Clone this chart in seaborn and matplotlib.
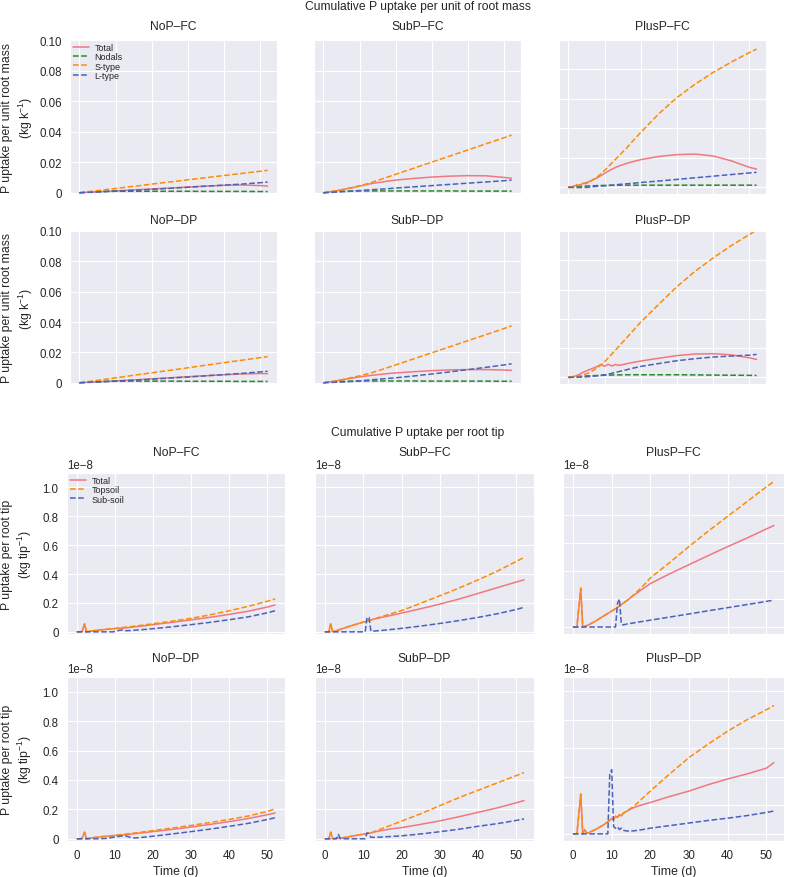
import matplotlib
matplotlib.use('Agg')
import matplotlib.pyplot as plt
import seaborn as sns
from matplotlib.ticker import FuncFormatter

sns.set_style("darkgrid")
plt.rcParams['font.family'] = ['Liberation Sans', 'DejaVu Sans']
plt.rcParams['mathtext.fontset'] = 'custom'
plt.rcParams['mathtext.rm'] = 'Liberation Sans'
plt.rcParams['mathtext.default'] = 'regular'

# ============================================================================
# DATA - cumulative P uptake per unit root mass (kg kg-1)
# ============================================================================
t_mass = [0, 1, 2, 3, 4, 5, 6, 8, 9, 10, 11, 12, 13, 14, 16, 18, 20, 25, 30, 35, 40, 45, 50, 52]

mass_nop_fc_total = [0, .0001, .0003, .0004, .0005, .0006, .0008, .0010, .0011, .0012, .0013, .0015, .0016, .0017, .0020, .0022, .0025, .0031, .0038, .0044, .0049, .0051, .0047, .0044]
mass_nop_fc_nodals = [0, .0002, .0004, .0005, .0006, .0007, .0008, .0009, .0009, .0010, .0010, .0010, .0010, .0010, .0010, .0010, .0010, .0010, .0010, .0009, .0009, .0009, .0008, .0008]
mass_nop_fc_stype = [0, .0003, .0006, .0009, .0011, .0014, .0017, .0023, .0025, .0028, .0031, .0034, .0037, .0040, .0045, .0051, .0057, .0071, .0085, .0099, .0113, .0127, .0141, .0147]
mass_nop_fc_ltype = [0, .0001, .0002, .0003, .0004, .0005, .0006, .0009, .0010, .0011, .0012, .0013, .0014, .0016, .0018, .0020, .0023, .0029, .0036, .0043, .0050, .0057, .0066, .0070]

mass_nop_dp_total = [0, .0001, .0003, .0004, .0005, .0007, .0008, .0010, .0011, .0013, .0014, .0015, .0016, .0018, .0020, .0023, .0026, .0033, .0040, .0047, .0053, .0058, .0061, .0060]
mass_nop_dp_nodals = [0, .0002, .0004, .0005, .0006, .0007, .0008, .0009, .0010, .0010, .0010, .0011, .0011, .0011, .0011, .0011, .0011, .0011, .0010, .0010, .0010, .0009, .0009, .0009]
mass_nop_dp_stype = [0, .0003, .0007, .0010, .0013, .0016, .0020, .0026, .0029, .0033, .0036, .0039, .0043, .0046, .0053, .0059, .0066, .0082, .0099, .0116, .0133, .0149, .0166, .0172]
mass_nop_dp_ltype = [0, .0001, .0002, .0003, .0004, .0005, .0006, .0009, .0010, .0011, .0012, .0014, .0015, .0016, .0019, .0021, .0024, .0031, .0038, .0046, .0054, .0062, .0072, .0076]

mass_subp_fc_total = [0, .0003, .0007, .0011, .0015, .0019, .0024, .0033, .0038, .0044, .0049, .0054, .0059, .0063, .0070, .0077, .0083, .0094, .0103, .0109, .0112, .0111, .0100, .0095]
mass_subp_fc_nodals = [0, .0003, .0005, .0007, .0008, .0009, .0010, .0011, .0011, .0012, .0012, .0012, .0012, .0012, .0012, .0012, .0012, .0012, .0012, .0012, .0011, .0011, .0011, .0011]
mass_subp_fc_stype = [0, .0003, .0007, .0011, .0015, .0020, .0025, .0035, .0040, .0046, .0052, .0058, .0065, .0073, .0089, .0105, .0121, .0161, .0201, .0241, .0281, .0321, .0361, .0377]
mass_subp_fc_ltype = [0, .0001, .0002, .0004, .0005, .0007, .0008, .0011, .0013, .0015, .0016, .0018, .0019, .0021, .0024, .0027, .0031, .0039, .0047, .0055, .0063, .0071, .0079, .0083]

mass_subp_dp_total = [0, .0003, .0007, .0011, .0015, .0019, .0023, .0031, .0035, .0039, .0042, .0045, .0048, .0051, .0056, .0061, .0065, .0073, .0080, .0085, .0087, .0087, .0084, .0082]
mass_subp_dp_nodals = [0, .0003, .0005, .0007, .0008, .0009, .0010, .0011, .0011, .0012, .0012, .0012, .0012, .0012, .0012, .0012, .0012, .0012, .0011, .0011, .0011, .0011, .0010, .0010]
mass_subp_dp_stype = [0, .0003, .0007, .0011, .0015, .0020, .0025, .0035, .0040, .0046, .0052, .0058, .0064, .0071, .0086, .0102, .0118, .0158, .0198, .0238, .0278, .0318, .0358, .0376]
mass_subp_dp_ltype = [0, .0001, .0002, .0003, .0004, .0005, .0006, .0009, .0011, .0013, .0015, .0017, .0019, .0021, .0025, .0029, .0033, .0045, .0058, .0072, .0087, .0102, .0118, .0125]

mass_plusp_fc_total = [0, .0003, .0012, .0015, .0025, .0033, .0042, .0065, .0080, .0095, .0110, .0123, .0135, .0145, .0162, .0176, .0188, .0210, .0222, .0226, .0213, .0180, .0136, .0124]
mass_plusp_fc_nodals = [0, .0002, .0004, .0006, .0008, .0009, .0010, .0012, .0013, .0013, .0014, .0014, .0014, .0015, .0015, .0015, .0015, .0015, .0015, .0015, .0015, .0015, .0015, .0015]
mass_plusp_fc_stype = [0, .0003, .0020, .0010, .0028, .0025, .0040, .0072, .0092, .0115, .0140, .0165, .0190, .0215, .0265, .0320, .0373, .0500, .0610, .0700, .0780, .0850, .0915, .0938]
mass_plusp_fc_ltype = [0, .0000, -.0001, -.0001, -.0001, .0000, .0002, .0007, .0009, .0011, .0013, .0015, .0017, .0020, .0024, .0028, .0033, .0043, .0054, .0065, .0076, .0087, .0098, .0102]

mass_plusp_dp_total = [0, .0003, .0010, .0020, .0035, .0045, .0055, .0075, .0088, .0076, .0090, .0078, .0088, .0082, .0093, .0103, .0112, .0131, .0149, .0160, .0162, .0154, .0134, .0123]
mass_plusp_dp_nodals = [0, .0002, .0004, .0006, .0008, .0010, .0011, .0013, .0014, .0015, .0016, .0016, .0017, .0017, .0018, .0018, .0018, .0018, .0018, .0017, .0016, .0015, .0014, .0013]
mass_plusp_dp_stype = [0, .0003, .0012, .0008, .0018, .0025, .0035, .0065, .0085, .0107, .0133, .0160, .0187, .0214, .0268, .0323, .0378, .0500, .0620, .0725, .0816, .0900, .0976, .1006]
mass_plusp_dp_ltype = [0, .0001, .0001, .0002, .0003, .0004, .0006, .0011, .0014, .0018, .0022, .0028, .0034, .0040, .0052, .0064, .0075, .0095, .0114, .0128, .0139, .0146, .0152, .0157]

# ============================================================================
# DATA - cumulative P uptake per root tip (units of 1e-8 kg tip-1)
# ============================================================================
t_tip = [0, 1, 1.5, 2, 2.5, 3, 3.5, 4, 5, 6, 8, 9, 9.5, 10, 10.5, 11, 11.5, 12, 12.5, 13, 14, 15, 16, 18, 20, 25, 30, 35, 40, 45, 50, 52]

tip_nop_fc_total = [0, 0, .01, .055, 0, .003, .005, .007, .010, .013, .018, .020, .021, .022, .023, .024, .025, .026, .027, .028, .031, .034, .037, .043, .050, .066, .083, .101, .121, .143, .172, .186]
tip_nop_fc_top = [0, 0, .01, .055, 0, .003, .005, .007, .010, .013, .018, .021, .022, .024, .025, .027, .028, .030, .031, .033, .036, .039, .042, .049, .056, .074, .094, .118, .146, .177, .212, .228]
tip_nop_fc_sub = [0, 0, 0, 0, 0, 0, 0, 0, 0, 0, 0, 0, 0, .003, .006, .010, .012, .013, .008, .008, .009, .011, .013, .017, .022, .035, .050, .066, .084, .104, .132, .146]

tip_nop_dp_total = [0, 0, .01, .045, 0, .003, .005, .007, .010, .013, .018, .020, .021, .022, .023, .024, .025, .026, .027, .028, .031, .034, .037, .043, .049, .064, .080, .098, .117, .138, .164, .175]
tip_nop_dp_top = [0, 0, .01, .045, 0, .003, .005, .007, .010, .013, .018, .021, .022, .024, .025, .027, .028, .030, .031, .033, .036, .039, .042, .049, .056, .073, .091, .111, .132, .155, .186, .204]
tip_nop_dp_sub = [0, 0, 0, 0, 0, 0, 0, 0, 0, 0, .003, .008, .010, .012, .014, .016, .018, .020, .021, .018, .010, .006, .007, .012, .018, .033, .049, .066, .085, .105, .131, .143]

tip_subp_fc_total = [0, 0, .055, .002, .004, .008, .012, .017, .026, .035, .051, .059, .063, .067, .071, .075, .079, .083, .086, .089, .095, .101, .107, .118, .130, .160, .192, .227, .266, .306, .345, .360]
tip_subp_fc_top = [0, 0, .055, .002, .004, .008, .012, .017, .026, .035, .051, .059, .063, .067, .071, .075, .079, .083, .087, .091, .099, .107, .115, .131, .147, .198, .250, .303, .360, .420, .488, .515]
tip_subp_fc_sub = [0, 0, 0, 0, 0, 0, 0, 0, 0, 0, 0, 0, 0, 0, 0, .10, .10, .005, .005, .006, .008, .010, .013, .018, .024, .040, .058, .078, .100, .125, .155, .170]

tip_subp_dp_total = [0, 0, .045, 0, .002, .003, .004, .004, .009, .013, .022, .027, .029, .031, .034, .036, .038, .040, .044, .047, .052, .057, .062, .070, .076, .098, .122, .150, .180, .210, .245, .260]
tip_subp_dp_top = [0, 0, .045, 0, .002, .003, .004, .004, .009, .013, .022, .027, .029, .031, .034, .036, .038, .040, .045, .050, .060, .070, .080, .100, .120, .170, .225, .280, .330, .380, .430, .450]
tip_subp_dp_sub = [0, 0, 0, 0, 0, 0, .03, 0, 0, 0, 0, 0, 0, 0, 0, .04, .035, .010, .010, .010, .011, .012, .014, .017, .020, .033, .048, .065, .085, .103, .125, .135]

tip_plusp_fc_total = [0, 0, .14, .277, 0, .005, .01, .015, .03, .045, .08, .097, .105, .114, .122, .131, .14, .15, .16, .17, .19, .211, .232, .272, .31, .38, .445, .51, .574, .635, .70, .725]
tip_plusp_fc_top = [0, 0, .14, .277, 0, .005, .01, .015, .03, .045, .08, .097, .105, .114, .122, .131, .14, .15, .16, .17, .19, .213, .237, .29, .35, .46, .575, .685, .79, .895, 1.0, 1.04]
tip_plusp_fc_sub = [0, 0, 0, 0, 0, 0, 0, 0, 0, 0, 0, 0, 0, 0, 0, 0, .17, .20, .02, .015, .022, .026, .031, .040, .049, .071, .093, .116, .138, .160, .183, .192]

tip_plusp_dp_total = [0, 0, .14, .28, 0, .03, .005, .008, .02, .033, .065, .085, .095, .108, .10, .125, .115, .135, .125, .145, .16, .175, .187, .205, .22, .262, .30, .345, .385, .42, .46, .50]
tip_plusp_dp_top = [0, 0, .14, .28, 0, .03, .005, .008, .02, .033, .065, .085, .095, .108, .10, .125, .115, .135, .125, .145, .16, .18, .20, .25, .30, .42, .535, .63, .72, .80, .87, .90]
tip_plusp_dp_sub = [0, 0, 0, 0, 0, 0, 0, 0, 0, 0, 0, 0, .42, .45, .05, .04, .05, .03, .04, .025, .02, .02, .022, .03, .04, .058, .076, .094, .11, .128, .15, .16]

mass_labels = ['Total', 'Nodals', 'S-type', 'L-type']
tip_labels = ['Total', 'Topsoil', 'Sub-soil']
panel_names = ['NoP–FC', 'SubP–FC', 'PlusP–FC', 'NoP–DP', 'SubP–DP', 'PlusP–DP']

mass_series = [
    (mass_nop_fc_total, mass_nop_fc_nodals, mass_nop_fc_stype, mass_nop_fc_ltype),
    (mass_subp_fc_total, mass_subp_fc_nodals, mass_subp_fc_stype, mass_subp_fc_ltype),
    (mass_plusp_fc_total, mass_plusp_fc_nodals, mass_plusp_fc_stype, mass_plusp_fc_ltype),
    (mass_nop_dp_total, mass_nop_dp_nodals, mass_nop_dp_stype, mass_nop_dp_ltype),
    (mass_subp_dp_total, mass_subp_dp_nodals, mass_subp_dp_stype, mass_subp_dp_ltype),
    (mass_plusp_dp_total, mass_plusp_dp_nodals, mass_plusp_dp_stype, mass_plusp_dp_ltype),
]
tip_series = [
    (tip_nop_fc_total, tip_nop_fc_top, tip_nop_fc_sub),
    (tip_subp_fc_total, tip_subp_fc_top, tip_subp_fc_sub),
    (tip_plusp_fc_total, tip_plusp_fc_top, tip_plusp_fc_sub),
    (tip_nop_dp_total, tip_nop_dp_top, tip_nop_dp_sub),
    (tip_subp_dp_total, tip_subp_dp_top, tip_subp_dp_sub),
    (tip_plusp_dp_total, tip_plusp_dp_top, tip_plusp_dp_sub),
]

RED = '#f07880'
GREEN = '#2a8a2a'
ORANGE = '#ff8c00'
BLUE = '#4a62b9'
mass_styles = [(RED, '-'), (GREEN, '--'), (ORANGE, '--'), (BLUE, '--')]
tip_styles = [(RED, '-'), (ORANGE, '--'), (BLUE, '--')]

TICK_FS = 8.3
TITLE_FS = 8.7
LABEL_FS = 8.8

# ============================================================================
# FIGURE
# ============================================================================
W, H = 786, 878
fig = plt.figure(figsize=(W / 100, H / 100), dpi=100)


def add_ax(left, top, w, h):
    return fig.add_axes([left / W, 1 - (top + h) / H, w / W, h / H])


mass_fmt = FuncFormatter(lambda v, p: '0' if abs(v) < 1e-12 else f'{v:.2f}')
tip_fmt = FuncFormatter(lambda v, p: '0' if abs(v) < 1e-20 else f'{v * 1e8:.1f}')

# ---- upper block: per unit root mass
mass_lefts = [70, 314, 559]
mass_tops = [41, 232]
mass_heights = [154, 153]
for i, name in enumerate(panel_names):
    r, c = divmod(i, 3)
    ax = add_ax(mass_lefts[c], mass_tops[r], 207, mass_heights[r])
    for k, (vals, (col, ls)) in enumerate(zip(mass_series[i], mass_styles)):
        sns.lineplot(x=t_mass, y=vals, ax=ax, color=col, linestyle=ls,
                     linewidth=1.1, label=mass_labels[k] if i == 0 else None,
                     legend=False)
    ax.set_xlim(-2.6, 54.6)
    ax.set_ylim(-0.0045 if c == 2 else -0.0008, 0.1)
    ax.set_xticks([0, 10, 20, 30, 40, 50])
    ax.set_yticks([0, 0.02, 0.04, 0.06, 0.08, 0.10])
    ax.yaxis.set_major_formatter(mass_fmt)
    ax.tick_params(labelbottom=False, labelleft=(c == 0), labelsize=TICK_FS, pad=2)
    ax.set_title(name, fontsize=TITLE_FS, pad=8 if r == 0 else 6)
    if c == 0:
        ax.set_ylabel('P uptake per unit root mass\n(kg k$^{-1}$)',
                      fontsize=LABEL_FS, linespacing=1.25)
        ax.yaxis.set_label_coords(-0.17, 0.5)
    if i == 0:
        ax.legend(loc='upper left', fontsize=6.5, frameon=False,
                  labelspacing=0.05, handlelength=1.8, handletextpad=0.6,
                  borderaxespad=0.2, borderpad=0.1)

# ---- lower block: per root tip
tip_lefts = [67, 315, 563]
tip_widths = [218, 219, 221]
tip_tops = [474, 678]
tip_heights = [161, 164]
for i, name in enumerate(panel_names):
    r, c = divmod(i, 3)
    ax = add_ax(tip_lefts[c], tip_tops[r], tip_widths[c], tip_heights[r])
    for k, (vals, (col, ls)) in enumerate(zip(tip_series[i], tip_styles)):
        sns.lineplot(x=t_tip, y=[v * 1e-8 for v in vals], ax=ax, color=col,
                     linestyle=ls, linewidth=1.1,
                     label=tip_labels[k] if i == 0 else None, legend=False)
    ax.set_xlim(-2.6, 54.6)
    ax.set_ylim((-0.05e-8 if c == 2 else -0.015e-8), 1.1e-8)
    ax.set_xticks([0, 10, 20, 30, 40, 50])
    ax.set_yticks([0, 0.2e-8, 0.4e-8, 0.6e-8, 0.8e-8, 1.0e-8])
    ax.yaxis.set_major_formatter(tip_fmt)
    ax.tick_params(labelbottom=(r == 1), labelleft=(c == 0), labelsize=TICK_FS, pad=2.5)
    ax.text(0, 1.01, '1e\u22128', transform=ax.transAxes, ha='left', va='bottom',
            fontsize=TICK_FS)
    ax.set_title(name, fontsize=TITLE_FS, pad=13 if r == 0 else 11.5)
    if c == 0:
        ax.set_ylabel('P uptake per root tip\n(kg tip$^{-1}$)',
                      fontsize=LABEL_FS, linespacing=1.25)
        ax.yaxis.set_label_coords(-0.15, 0.5)
    if r == 1:
        ax.set_xlabel('Time (d)', fontsize=LABEL_FS, labelpad=3)
    if i == 0:
        ax.legend(loc='upper left', fontsize=6.5, frameon=False,
                  labelspacing=0.05, handlelength=1.8, handletextpad=0.6,
                  borderaxespad=0.2, borderpad=0.1)

fig.text(418 / W, 1 - 7 / H, 'Cumulative P uptake per unit of root mass',
         ha='center', va='center', fontsize=TITLE_FS)
fig.text(418 / W, 1 - 433 / H, 'Cumulative P uptake per root tip',
         ha='center', va='center', fontsize=TITLE_FS)

fig.savefig('out.png', dpi=100)
